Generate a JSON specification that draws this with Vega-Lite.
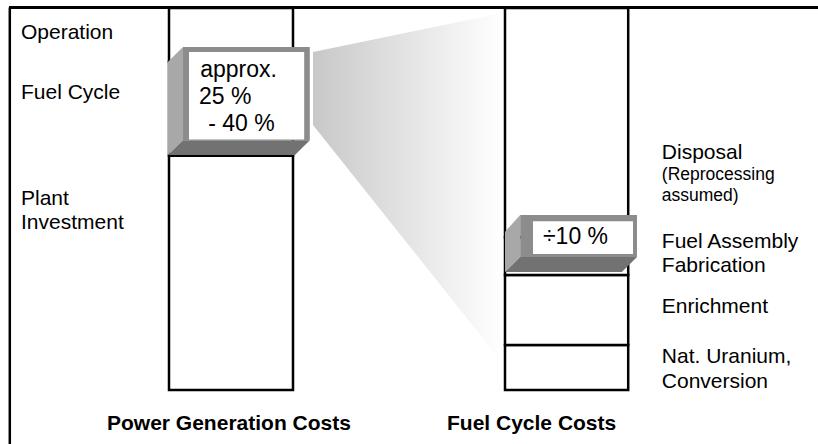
{
  "$schema": "https://vega.github.io/schema/vega-lite/v6.json",
  "width": 800,
  "height": 382,
  "autosize": {"type": "none"},
  "padding": {"left": 9, "top": 8, "right": 9, "bottom": 54},
  "background": "white",
  "config": {"view": {"stroke": null}, "axis": {"disable": true}},
  "datasets": {
    "frame_top": [{"x0": 0, "x1": 101.2, "y0": 100.1, "y1": 100.1}],
    "frame_left": [{"x0": 0.1, "x1": 0.1, "y0": -14.2, "y1": 100.1}],
    "segments": [
      {"bar": "Power Generation Costs", "part": "Plant Investment", "x0": 20, "x1": 35.5, "y0": 0, "y1": 61.3},
      {"bar": "Power Generation Costs", "part": "Fuel Cycle", "x0": 20, "x1": 35.5, "y0": 61.3, "y1": 86},
      {"bar": "Power Generation Costs", "part": "Operation", "x0": 20, "x1": 35.5, "y0": 86, "y1": 100},
      {"bar": "Fuel Cycle Costs", "part": "Nat. Uranium, Conversion", "x0": 62, "x1": 77.4, "y0": 0, "y1": 11.8},
      {"bar": "Fuel Cycle Costs", "part": "Enrichment", "x0": 62, "x1": 77.4, "y0": 11.8, "y1": 30.1},
      {"bar": "Fuel Cycle Costs", "part": "Fuel Assembly Fabrication", "x0": 62, "x1": 77.4, "y0": 30.1, "y1": 40},
      {"bar": "Fuel Cycle Costs", "part": "Disposal", "x0": 62, "x1": 77.4, "y0": 40, "y1": 100}
    ],
    "wedge": [
      {"x": 38, "y0": 69.4, "y1": 88.5},
      {"x": 61.6, "y0": 7.3, "y1": 98.7}
    ],
    "side_bevel": [
      {"box": "fuel cycle share", "x": 19.875, "y0": 61.5, "y1": 85.9},
      {"box": "fuel cycle share", "x": 21.75, "y0": 65.4, "y1": 89.8},
      {"box": "fabrication share", "x": 62, "y0": 30.9, "y1": 41.4},
      {"box": "fabrication share", "x": 63.9, "y0": 34.8, "y1": 45.8}
    ],
    "bottom_bevel": [
      {"box": "fuel cycle share", "y": 61.5, "x0": 19.875, "x1": 35.75},
      {"box": "fuel cycle share", "y": 65.4, "x0": 21.75, "x1": 37.6},
      {"box": "fabrication share", "y": 30.9, "x0": 62, "x1": 76.6},
      {"box": "fabrication share", "y": 34.8, "x0": 63.9, "x1": 78.5}
    ],
    "front_face": [
      {"box": "fuel cycle share", "x0": 21.75, "x1": 37.6, "y0": 65.4, "y1": 89.8},
      {"box": "fabrication share", "x0": 63.9, "x1": 78.5, "y0": 34.8, "y1": 45.8}
    ],
    "front_inner": [
      {"box": "fuel cycle share", "x0": 22.5, "x1": 36.9, "y0": 65.6, "y1": 88.5},
      {"box": "fabrication share", "x0": 65.5, "x1": 78, "y0": 35.6, "y1": 44.2}
    ],
    "labels": [
      {"text": "Operation", "x": 1.5, "y": 91.9},
      {"text": "Fuel Cycle", "x": 1.5, "y": 76.2},
      {"text": "Plant", "x": 1.5, "y": 48.4},
      {"text": "Investment", "x": 1.5, "y": 42.1},
      {"text": "Disposal", "x": 81.6, "y": 60.5},
      {"text": "Fuel Assembly", "x": 81.6, "y": 37.2},
      {"text": "Fabrication", "x": 81.6, "y": 30.9},
      {"text": "Enrichment", "x": 81.6, "y": 20.2},
      {"text": "Nat. Uranium,", "x": 81.6, "y": 7.1},
      {"text": "Conversion", "x": 81.6, "y": 0.5}
    ],
    "small_labels": [
      {"text": "(Reprocessing", "x": 81.6, "y": 55.0},
      {"text": "assumed)", "x": 81.6, "y": 49.5}
    ],
    "box_labels": [
      {"text": "approx.", "x": 23.9, "y": 81.9},
      {"text": "25 %", "x": 23.75, "y": 74.9},
      {"text": "- 40 %", "x": 24.9, "y": 67.9},
      {"text": "÷10 %", "x": 66.75, "y": 38.3}
    ],
    "titles": [
      {"text": "Power Generation Costs", "x": 12.25, "y": -10.5},
      {"text": "Fuel Cycle Costs", "x": 54.75, "y": -10.5}
    ]
  },
  "layer": [
    {
      "data": {"name": "frame_top"},
      "mark": {"type": "rule", "color": "black", "strokeWidth": 3},
      "encoding": {
        "x": {"field": "x0", "type": "quantitative", "scale": {"domain": [0, 100], "nice": false, "zero": false}},
        "x2": {"field": "x1"},
        "y": {"field": "y0", "type": "quantitative", "scale": {"domain": [0, 100], "nice": false, "zero": false}},
        "y2": {"field": "y1"}
      }
    },
    {
      "data": {"name": "frame_left"},
      "mark": {"type": "rule", "color": "black", "strokeWidth": 2.5},
      "encoding": {
        "x": {"field": "x0", "type": "quantitative"},
        "x2": {"field": "x1"},
        "y": {"field": "y0", "type": "quantitative"},
        "y2": {"field": "y1"}
      }
    },
    {
      "data": {"name": "segments"},
      "mark": {"type": "rect", "fill": "white", "stroke": "black", "strokeWidth": 2.5},
      "encoding": {
        "x": {"field": "x0", "type": "quantitative"},
        "x2": {"field": "x1"},
        "y": {"field": "y0", "type": "quantitative"},
        "y2": {"field": "y1"}
      }
    },
    {
      "data": {"name": "wedge"},
      "mark": {
        "type": "area",
        "orient": "vertical",
        "fill": {
          "gradient": "linear",
          "x1": 0, "y1": 0, "x2": 1, "y2": 0,
          "stops": [
            {"offset": 0, "color": "#c8c8c8"},
            {"offset": 1, "color": "#ffffff"}
          ]
        }
      },
      "encoding": {
        "x": {"field": "x", "type": "quantitative"},
        "y": {"field": "y0", "type": "quantitative"},
        "y2": {"field": "y1"}
      }
    },
    {
      "data": {"name": "side_bevel"},
      "mark": {"type": "area", "orient": "vertical", "fill": "#a8a8a8"},
      "encoding": {
        "x": {"field": "x", "type": "quantitative"},
        "y": {"field": "y0", "type": "quantitative"},
        "y2": {"field": "y1"},
        "detail": {"field": "box"}
      }
    },
    {
      "data": {"name": "bottom_bevel"},
      "mark": {"type": "area", "orient": "horizontal", "fill": "#727272"},
      "encoding": {
        "y": {"field": "y", "type": "quantitative"},
        "x": {"field": "x0", "type": "quantitative"},
        "x2": {"field": "x1"},
        "detail": {"field": "box"}
      }
    },
    {
      "data": {"name": "front_face"},
      "mark": {"type": "rect", "fill": "#8c8c8c"},
      "encoding": {
        "x": {"field": "x0", "type": "quantitative"},
        "x2": {"field": "x1"},
        "y": {"field": "y0", "type": "quantitative"},
        "y2": {"field": "y1"}
      }
    },
    {
      "data": {"name": "front_inner"},
      "mark": {"type": "rect", "fill": "white"},
      "encoding": {
        "x": {"field": "x0", "type": "quantitative"},
        "x2": {"field": "x1"},
        "y": {"field": "y0", "type": "quantitative"},
        "y2": {"field": "y1"}
      }
    },
    {
      "data": {"name": "labels"},
      "mark": {"type": "text", "align": "left", "baseline": "alphabetic", "font": "Liberation Sans", "fontSize": 21, "color": "black"},
      "encoding": {
        "x": {"field": "x", "type": "quantitative"},
        "y": {"field": "y", "type": "quantitative"},
        "text": {"field": "text"}
      }
    },
    {
      "data": {"name": "small_labels"},
      "mark": {"type": "text", "align": "left", "baseline": "alphabetic", "font": "Liberation Sans", "fontSize": 17.5, "color": "black"},
      "encoding": {
        "x": {"field": "x", "type": "quantitative"},
        "y": {"field": "y", "type": "quantitative"},
        "text": {"field": "text"}
      }
    },
    {
      "data": {"name": "box_labels"},
      "mark": {"type": "text", "align": "left", "baseline": "alphabetic", "font": "Liberation Sans", "fontSize": 23, "color": "black"},
      "encoding": {
        "x": {"field": "x", "type": "quantitative"},
        "y": {"field": "y", "type": "quantitative"},
        "text": {"field": "text"}
      }
    },
    {
      "data": {"name": "titles"},
      "mark": {"type": "text", "align": "left", "baseline": "alphabetic", "font": "Liberation Sans", "fontSize": 21, "fontWeight": "bold", "color": "black"},
      "encoding": {
        "x": {"field": "x", "type": "quantitative"},
        "y": {"field": "y", "type": "quantitative"},
        "text": {"field": "text"}
      }
    }
  ]
}
